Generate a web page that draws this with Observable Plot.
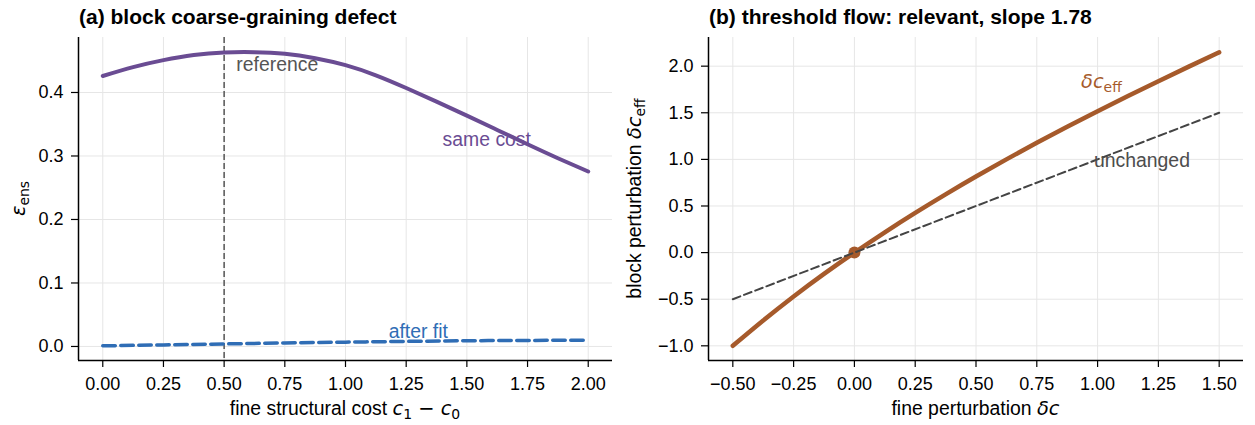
<!DOCTYPE html>
<html>
<head>
<meta charset="utf-8">
<script src="https://cdn.jsdelivr.net/npm/d3@7"></script>
<script src="https://cdn.jsdelivr.net/npm/@observablehq/plot@0.6"></script>
<style>
  html, body { margin: 0; padding: 0; background: white; }
  #wrap { width: 1255px; height: 425px; display: flex; background: white; }
</style>
</head>
<body>
<div id="wrap"></div>
<script>
// ---------- data: panel (a) ----------
const costX = [0, 0.125, 0.25, 0.375, 0.5, 0.625, 0.75, 0.875, 1.0, 1.125, 1.25, 1.375, 1.5, 1.625, 1.75, 1.875, 2.0];
const sameCostEps = [0.426, 0.440, 0.451, 0.459, 0.463, 0.4635, 0.461, 0.454, 0.443, 0.427, 0.407, 0.3855, 0.3635, 0.341, 0.3185, 0.2965, 0.2755];
const fitX = [0, 0.25, 0.5, 0.75, 1.0, 1.25, 1.5, 1.75, 2.0];
const afterFitEps = [0.001, 0.0025, 0.004, 0.0055, 0.0068, 0.008, 0.009, 0.0095, 0.0098];
const referenceCost = [0.5];
const ticksAx = [0, 0.25, 0.5, 0.75, 1.0, 1.25, 1.5, 1.75, 2.0];
const ticksAy = [0, 0.1, 0.2, 0.3, 0.4];

// ---------- data: panel (b) ----------
const pertX = [-0.5, -0.375, -0.25, -0.125, 0, 0.125, 0.25, 0.375, 0.5, 0.625, 0.75, 0.875, 1.0, 1.125, 1.25, 1.375, 1.5];
const blockPert = [-1.0, -0.728, -0.47, -0.228, 0, 0.218, 0.426, 0.625, 0.816, 1.0, 1.178, 1.35, 1.517, 1.68, 1.839, 1.995, 2.148];
const unchangedX = [-0.5, 1.5];
const unchangedY = [-0.5, 1.5];
const fixedPoint = [{x: 0, y: 0}];
const ticksBx = [-0.5, -0.25, 0, 0.25, 0.5, 0.75, 1.0, 1.25, 1.5];
const ticksBy = [-1.0, -0.5, 0, 0.5, 1.0, 1.5, 2.0];

// ---------- style ----------
const SANS = "'Liberation Sans', Arial, Helvetica, sans-serif";
const MATH = "'DejaVu Sans', sans-serif";
const PURPLE = "#6a4c93", BLUE = "#2f6db5", BROWN = "#a65a2b", GRAY = "#555555", DGRAY = "#444444", GRID = "#e6e6e6";
const TICK = 18, LAB = 19.4, ANN = 19.4, TTL = 21;

const aSame = costX.map((x, i) => ({x, y: sameCostEps[i]}));
const aFit = fitX.map((x, i) => ({x, y: afterFitEps[i]}));
const bCurve = pertX.map((x, i) => ({x, y: blockPert[i]}));
const bUnch = unchangedX.map((x, i) => ({x, y: unchangedY[i]}));

const axA = [-0.1, 2.1], ayA = [-0.0221, 0.4866];
const axB = [-0.6, 1.6], ayB = [-1.1575, 2.3075];

const commonStyle = {fontFamily: SANS, background: "white", overflow: "visible", color: "black"};

const plotA = Plot.plot({
  width: 627, height: 425,
  marginLeft: 78, marginRight: 15, marginTop: 37, marginBottom: 65,
  x: {domain: axA}, y: {domain: ayA},
  style: commonStyle,
  marks: [
    Plot.gridX(ticksAx, {stroke: GRID, strokeOpacity: 1, strokeWidth: 1}),
    Plot.gridY(ticksAy, {stroke: GRID, strokeOpacity: 1, strokeWidth: 1}),
    Plot.ruleX(referenceCost, {stroke: GRAY, strokeWidth: 1.5, strokeDasharray: "6,3"}),
    Plot.line(aSame, {x: "x", y: "y", stroke: PURPLE, strokeWidth: 4, curve: "natural"}),
    Plot.line(aFit, {x: "x", y: "y", stroke: BLUE, strokeWidth: 3.5, strokeDasharray: "12.5,5.5", curve: "natural"}),
    Plot.text(["reference"], {x: 0.55, y: 0.443, text: d => d, textAnchor: "start", fill: GRAY, fontSize: ANN}),
    Plot.text(["same cost"], {x: 1.40, y: 0.325, text: d => d, textAnchor: "start", fill: PURPLE, fontSize: ANN}),
    Plot.text(["after fit"], {x: 1.30, y: 0.023, text: d => d, textAnchor: "middle", fill: BLUE, fontSize: ANN}),
    Plot.axisX(ticksAx, {tickSize: 7, tickPadding: 10, tickFormat: d3.format(".2f"), fontSize: TICK, label: null, strokeWidth: 1.2}),
    Plot.axisY(ticksAy, {tickSize: 7, tickPadding: 8, tickFormat: d3.format(".1f"), fontSize: TICK, label: null, strokeWidth: 1.2}),
    Plot.ruleX([axA[0]], {stroke: "black", strokeWidth: 1.5}),
    Plot.ruleY([ayA[0]], {stroke: "black", strokeWidth: 1.5})
  ]
});

const plotB = Plot.plot({
  width: 628, height: 425,
  marginLeft: 81, marginRight: 12, marginTop: 37, marginBottom: 65,
  x: {domain: axB}, y: {domain: ayB},
  style: commonStyle,
  marks: [
    Plot.gridX(ticksBx, {stroke: GRID, strokeOpacity: 1, strokeWidth: 1}),
    Plot.gridY(ticksBy, {stroke: GRID, strokeOpacity: 1, strokeWidth: 1}),
    Plot.line(bCurve, {x: "x", y: "y", stroke: BROWN, strokeWidth: 4.5, curve: "natural"}),
    Plot.dot(fixedPoint, {x: "x", y: "y", r: 6, fill: BROWN, stroke: "none"}),
    Plot.line(bUnch, {x: "x", y: "y", stroke: DGRAY, strokeWidth: 2, strokeDasharray: "8,4"}),
    Plot.text(["unchanged"], {x: 0.985, y: 0.985, text: d => d, textAnchor: "start", fill: "#4d4d4d", fontSize: ANN}),
    Plot.axisX(ticksBx, {tickSize: 7, tickPadding: 10, tickFormat: d3.format(".2f"), fontSize: TICK, label: null, strokeWidth: 1.2}),
    Plot.axisY(ticksBy, {tickSize: 7, tickPadding: 8, tickFormat: d3.format(".1f"), fontSize: TICK, label: null, strokeWidth: 1.2}),
    Plot.ruleX([axB[0]], {stroke: "black", strokeWidth: 1.5}),
    Plot.ruleY([ayB[0]], {stroke: "black", strokeWidth: 1.5})
  ]
});

const wrap = document.getElementById("wrap");
wrap.appendChild(plotA);
wrap.appendChild(plotB);

// ---------- text helpers (titles and math labels) ----------
function addText(svg, x, y, parts, opts = {}) {
  const size = opts.size || LAB;
  const t = d3.select(svg).append("text")
    .attr("transform", `translate(${x},${y})` + (opts.rotate ? ` rotate(${opts.rotate})` : ""))
    .attr("text-anchor", opts.anchor || "middle")
    .attr("fill", opts.fill || "black")
    .attr("font-size", size)
    .attr("font-family", SANS)
    .attr("font-weight", opts.weight || "normal");
  let shift = 0;
  for (const p of parts) {
    const s = t.append("tspan").text(p.t);
    const target = p.sub ? 0.2 * size : 0;
    s.attr("dy", target - shift);
    shift = target;
    if (p.math || p.sub || p.it) s.attr("font-family", MATH);
    if (p.it) s.attr("font-style", "italic");
    if (p.sub) s.attr("font-size", size * 0.72);
  }
  return t;
}

// titles
addText(plotA, 79, 23.5, [{t: "(a) block coarse-graining defect"}], {anchor: "start", size: TTL, weight: "bold"});
addText(plotB, 82, 23.5, [{t: "(b) threshold flow: relevant, slope 1.78"}], {anchor: "start", size: TTL, weight: "bold"});

// axis labels panel (a)
addText(plotA, 345, 415, [
  {t: "fine structural cost "}, {t: "c", it: true}, {t: "1", sub: true},
  {t: " \u2212 ", math: true}, {t: "c", it: true}, {t: "0", sub: true}
]);
addText(plotA, 25, 198.5, [{t: "\u03b5", it: true}, {t: "ens", sub: true}], {rotate: -90});

// axis labels panel (b)
addText(plotB, 348.5, 415, [{t: "fine perturbation "}, {t: "\u03b4c", it: true}]);
addText(plotB, 14, 198.5, [{t: "block perturbation "}, {t: "\u03b4c", it: true}, {t: "eff", sub: true}], {rotate: -90});

// curve label delta c_eff (positioned through the plot's scales)
const sxB = plotB.scale("x"), syB = plotB.scale("y");
addText(plotB, sxB.apply(1.018), syB.apply(1.83) + 6.5, [{t: "\u03b4c", it: true}, {t: "eff", sub: true}], {fill: BROWN, size: ANN});
</script>
</body>
</html>
